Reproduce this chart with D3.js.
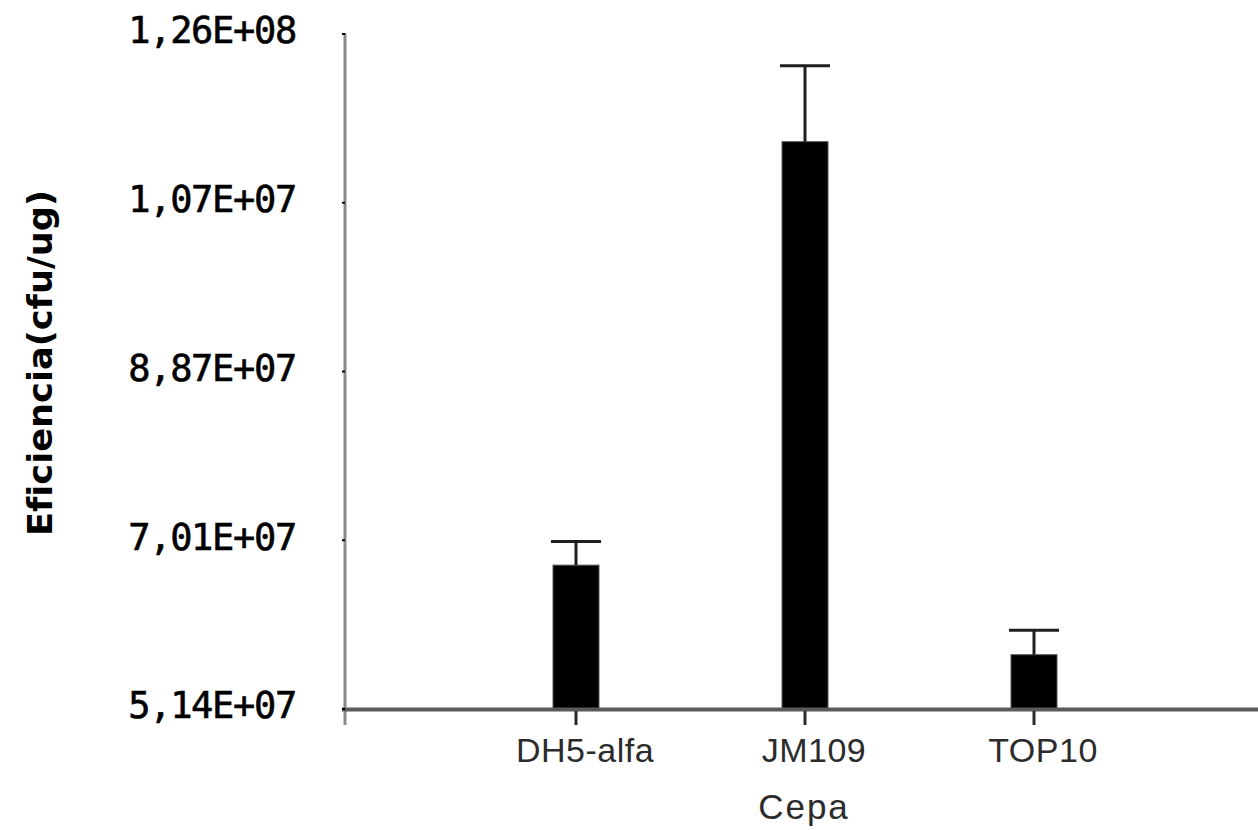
<!DOCTYPE html>
<html><head><meta charset="utf-8">
<script src="https://cdn.jsdelivr.net/npm/d3@7"></script>
<style>html,body{margin:0;padding:0;background:#fff;}svg{display:block;}</style>
</head><body>
<svg id="c" width="1258" height="830"></svg>
<script>
const categories = ["DH5-alfa", "JM109", "TOP10"];
const values = [6.73e7, 11.41e7, 5.74e7];
const errors = [0.26e7, 0.84e7, 0.27e7];
const tickValues = [5.14e7, 7.005e7, 8.87e7, 10.735e7, 12.6e7];
const tickLabels = ["5,14E+07", "7,01E+07", "8,87E+07", "1,07E+07", "1,26E+08"];
const xTitle = "Cepa";
const yTitle = "Eficiencia(cfu/ug)";

const svg = d3.select("#c");
const y = d3.scaleLinear().domain([5.14e7, 12.6e7]).range([709, 34]);
const x = d3.scalePoint().domain(categories).range([347, 1263]).padding(1);
const barW = 46, capW = 50;
const axisX = 345;

// y axis line
svg.append("line").attr("x1", axisX).attr("x2", axisX)
  .attr("y1", y.range()[1] - 1).attr("y2", y.range()[0] + 16)
  .attr("stroke", "#8a8a8a").attr("stroke-width", 3);

// bars
const data = categories.map((c, i) => ({c, v: values[i], e: errors[i]}));
const g = svg.append("g");
g.selectAll("rect.bar").data(data).join("rect").attr("class", "bar")
  .attr("x", d => x(d.c) - barW / 2).attr("width", barW)
  .attr("y", d => y(d.v)).attr("height", d => y.range()[0] - y(d.v))
  .attr("fill", "#000").attr("stroke", "#555").attr("stroke-width", 1);
// error bars
g.selectAll("line.err").data(data).join("line").attr("class", "err")
  .attr("x1", d => x(d.c)).attr("x2", d => x(d.c))
  .attr("y1", d => y(d.v)).attr("y2", d => y(d.v + d.e))
  .attr("stroke", "#1e1e1e").attr("stroke-width", 3);
g.selectAll("line.cap").data(data).join("line").attr("class", "cap")
  .attr("x1", d => x(d.c) - capW / 2).attr("x2", d => x(d.c) + capW / 2)
  .attr("y1", d => y(d.v + d.e)).attr("y2", d => y(d.v + d.e))
  .attr("stroke", "#1e1e1e").attr("stroke-width", 3);

// baseline
svg.append("line").attr("x1", axisX - 3).attr("x2", 1258)
  .attr("y1", y.range()[0] + 0.5).attr("y2", y.range()[0] + 0.5)
  .attr("stroke", "#5a5a5a").attr("stroke-width", 4);

// x ticks
svg.selectAll("line.xt").data(categories).join("line").attr("class", "xt")
  .attr("x1", d => x(d)).attr("x2", d => x(d))
  .attr("y1", y.range()[0] + 2).attr("y2", y.range()[0] + 16)
  .attr("stroke", "#2a2a2a").attr("stroke-width", 3);

// y ticks
svg.selectAll("line.yt").data(tickValues).join("line").attr("class", "yt")
  .attr("x1", axisX - 3).attr("x2", axisX)
  .attr("y1", d => y(d)).attr("y2", d => y(d))
  .attr("stroke", "#000").attr("stroke-width", 2);

// y tick labels
svg.selectAll("text.yl").data(tickValues).join("text").attr("class", "yl")
  .attr("x", 296).attr("y", d => y(d) - 4)
  .attr("dy", "0.36em")
  .attr("text-anchor", "end")
  .style("font-family", "'DejaVu Sans Mono', monospace")
  .style("font-size", "37px").style("letter-spacing", "-1.3px")
  .style("stroke", "#000").style("stroke-width", "0.6px")
  .attr("fill", "#000")
  .text((d, i) => tickLabels[i]);

// x labels
svg.selectAll("text.xl").data(categories).join("text").attr("class", "xl")
  .attr("x", d => x(d) + 9).attr("y", 762)
  .attr("text-anchor", "middle")
  .style("font-family", "'Liberation Sans', Arial, sans-serif")
  .style("font-size", "34px").style("letter-spacing", "0.5px")
  .attr("fill", "#2b2b2b")
  .text(d => d);

// x title
svg.append("text").attr("x", 804).attr("y", 819)
  .attr("text-anchor", "middle")
  .style("font-family", "'Liberation Sans', Arial, sans-serif")
  .style("font-size", "35px").style("letter-spacing", "2px").attr("fill", "#2b2b2b")
  .text(xTitle);

// y title
svg.append("text").attr("transform", "translate(52,363) rotate(-90)")
  .attr("text-anchor", "middle")
  .style("font-family", "'DejaVu Sans', sans-serif")
  .style("font-weight", "bold").style("font-size", "33px")
  .style("font-variant-ligatures", "none")
  .attr("fill", "#000")
  .attr("textLength", 346).attr("lengthAdjust", "spacingAndGlyphs")
  .text(yTitle);
</script>
</body></html>
